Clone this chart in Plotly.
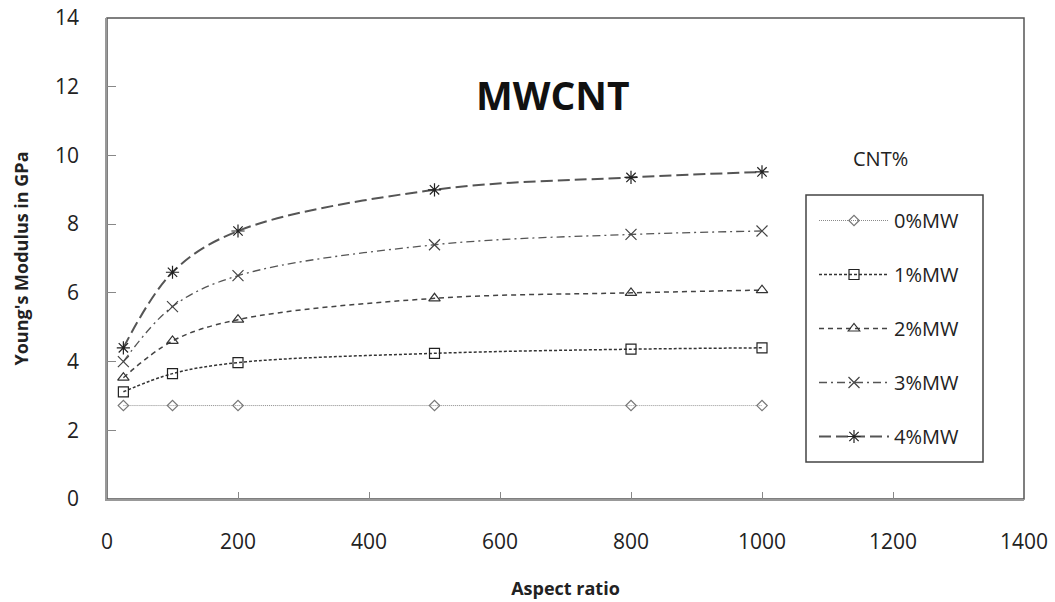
import plotly.graph_objects as go

aspect_ratio = [25, 100, 200, 500, 800, 1000]
series_names = ["0%MW", "1%MW", "2%MW", "3%MW", "4%MW"]
mw0 = [2.72, 2.72, 2.72, 2.72, 2.72, 2.72]
mw1 = [3.12, 3.65, 3.97, 4.24, 4.36, 4.40]
mw2 = [3.53, 4.60, 5.22, 5.84, 6.00, 6.08]
mw3 = [4.00, 5.60, 6.50, 7.40, 7.70, 7.80]
mw4 = [4.40, 6.60, 7.80, 9.00, 9.36, 9.52]
x_ticks = [0, 200, 400, 600, 800, 1000, 1200, 1400]
y_ticks = [0, 2, 4, 6, 8, 10, 12, 14]

values = [mw0, mw1, mw2, mw3, mw4]
styles = [
    dict(color="#8a8a8a", width=1, dash="1px,1px", symbol="diamond-open", msize=8, mcolor="#777"),
    dict(color="#333333", width=1.5, dash="3px,2px", symbol="square-open", msize=10, mcolor="#222"),
    dict(color="#444444", width=1.5, dash="5px,4px", symbol="triangle-up-open", msize=10, mcolor="#333"),
    dict(color="#555555", width=1.3, dash="8px,4px,2px,4px", symbol="x-thin-open", msize=11, mcolor="#444"),
    dict(color="#555555", width=2, dash="12px,5px", symbol="asterisk-open", msize=11, mcolor="#222"),
]

fig = go.Figure()
for name, vals, st in zip(series_names, values, styles):
    fig.add_trace(go.Scatter(
        x=aspect_ratio, y=vals, name=name, legendgroup=name,
        mode="lines+markers",
        line=dict(color=st["color"], width=st["width"], dash=st["dash"], shape="spline", smoothing=1),
        marker=dict(symbol=st["symbol"], size=st["msize"], color=st["mcolor"],
                    line=dict(color=st["mcolor"], width=1.2)),
    ))

font_family = "Open Sans, Lato, sans-serif"

fig.update_layout(
    width=1055, height=602,
    margin=dict(l=107, r=31, t=18, b=103, autoexpand=False),
    paper_bgcolor="white", plot_bgcolor="white",
    font=dict(family=font_family, color="#222"),
    showlegend=True,
    legend=dict(
        x=(814 - 107) / 917, xanchor="left", y=(499 - 201) / 481, yanchor="top",
        traceorder="grouped", tracegroupgap=25,
        itemwidth=70,
        font=dict(size=20, color="#222"),
        bgcolor="rgba(0,0,0,0)", borderwidth=0,
    ),
    xaxis=dict(
        range=[0, 1400], tickvals=x_ticks, ticks="inside", ticklen=7, tickcolor="#888",
        showline=True, linecolor="#999", linewidth=1.5, showgrid=False, zeroline=False,
        tickfont=dict(size=21, color="#222"), ticklabelstandoff=23, automargin=False,
        title=dict(text="<b>Aspect ratio</b>", font=dict(size=18, color="#222"), standoff=28),
    ),
    yaxis=dict(
        range=[0, 14], tickvals=y_ticks, ticks="inside", ticklen=9, tickcolor="#888",
        showline=True, linecolor="#999", linewidth=1.5, showgrid=False, zeroline=False,
        tickfont=dict(size=21, color="#222"), ticklabelstandoff=22, automargin=False,
        title=dict(text="<b>Young's Modulus in GPa</b>", font=dict(size=18, color="#222"), standoff=22),
    ),
    shapes=[
        dict(type="rect", xref="x domain", yref="y domain", x0=0, x1=1, y0=0, y1=1,
             line=dict(color="#555", width=1.5), layer="below"),
        dict(type="rect", xref="paper", yref="paper",
             x0=(806 - 107) / 917, x1=(983 - 107) / 917,
             y0=(499 - 462) / 481, y1=(499 - 195) / 481,
             line=dict(color="#444", width=1.5), layer="above"),
    ],
    annotations=[
        dict(text="<b>MWCNT</b>", xref="paper", yref="paper",
             x=(553 - 107) / 917, y=(499 - 95) / 481, showarrow=False,
             font=dict(size=39, color="#111"), xanchor="center", yanchor="middle"),
        dict(text="CNT%", xref="paper", yref="paper",
             x=(880 - 107) / 917, y=(499 - 158) / 481, showarrow=False,
             font=dict(size=20, color="#222"), xanchor="center", yanchor="middle"),
    ],
)

fig.write_html("out.html")
